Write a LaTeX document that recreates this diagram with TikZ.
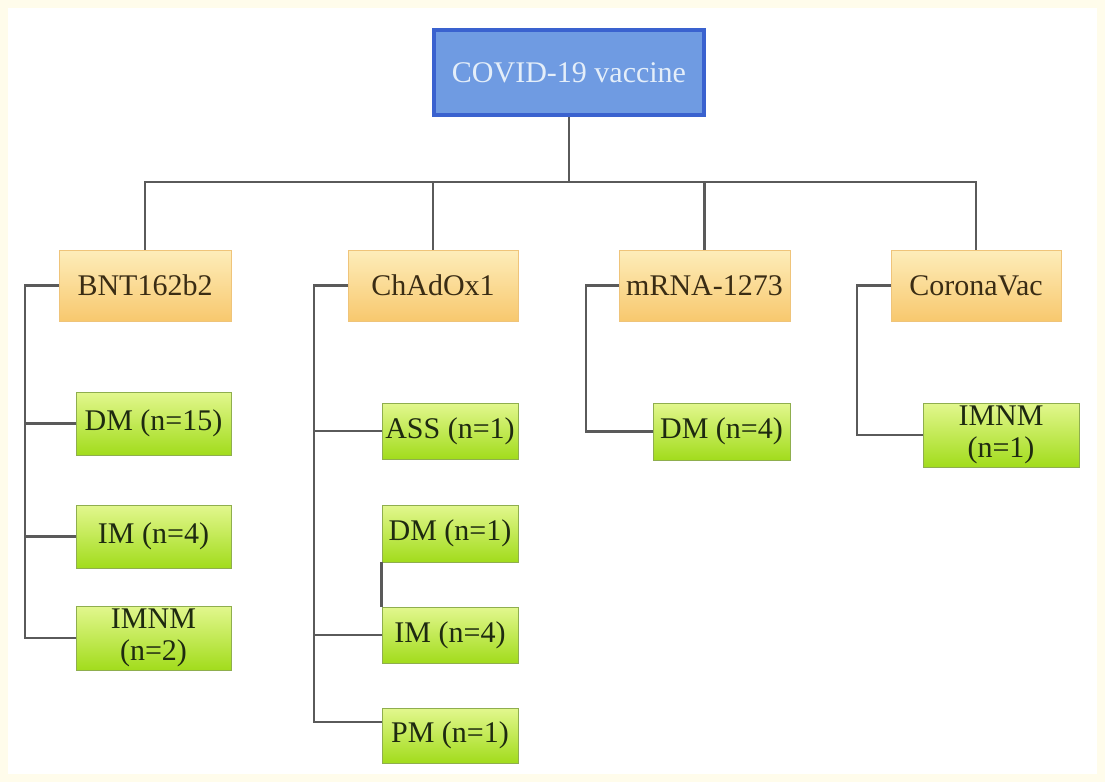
\documentclass[tikz,border=0pt]{standalone}
\usepackage{fontspec}
\setmainfont{Liberation Serif}
\definecolor{cream}{HTML}{FFFCEB}
\definecolor{topfill}{HTML}{6F9BE2}
\definecolor{topdraw}{HTML}{3A62CF}
\definecolor{toptext}{HTML}{E4EEF9}
\definecolor{ytop}{HTML}{FDEDBA}
\definecolor{ybot}{HTML}{F8C86E}
\definecolor{ydraw}{HTML}{EFC47A}
\definecolor{ytext}{HTML}{3A2C14}
\definecolor{gtop}{HTML}{E2F78E}
\definecolor{gbot}{HTML}{A2DC1C}
\definecolor{gdraw}{HTML}{8FAE4E}
\definecolor{gtext}{HTML}{1E2A10}
\definecolor{link}{HTML}{5A5A5A}
\tikzset{
  rootbox/.style={draw=topdraw, line width=4pt, fill=topfill, text=toptext,
    minimum width=270pt, minimum height=85pt, inner sep=0pt, font=\fontsize{30}{32}\selectfont},
  vbox/.style={draw=ydraw, line width=0.8pt, top color=ytop, bottom color=ybot, text=ytext,
    minimum height=71pt, inner sep=0pt, font=\fontsize{30}{32}\selectfont},
  gbox/.style={draw=gdraw, line width=0.8pt, top color=gtop, bottom color=gbot, text=gtext,
    inner sep=0pt, align=center, font=\fontsize{30}{32}\selectfont},
  link/.style={draw=link, line width=2.4pt},
}
\begin{document}
\begin{tikzpicture}[x=1pt,y=-1pt]
\fill[cream] (0,0) rectangle (1105,782);
\fill[white] (8,8) rectangle (1097,774);
\useasboundingbox (0,0) rectangle (1105,782);

\node[rootbox] (root) at (569,72.5) {COVID-19 vaccine};

\node[vbox, minimum width=172pt] (bnt) at (145,285.5) {BNT162b2};
\node[vbox, minimum width=170pt] (cha) at (433,285.5) {ChAdOx1};
\node[vbox, minimum width=171pt] (mrna) at (704.5,285.5) {mRNA-1273};
\node[vbox, minimum width=170pt] (cor) at (976,285.5) {CoronaVac};

\node[gbox, minimum width=155pt, minimum height=63pt] (b1) at (153.5,423.5) {DM (n=15)};
\node[gbox, minimum width=155pt, minimum height=63pt] (b2) at (153.5,536.5) {IM (n=4)};
\node[gbox, minimum width=155pt, minimum height=64pt] (b3) at (153.5,638) {IMNM\\(n=2)};

\node[gbox, minimum width=136pt, minimum height=56pt] (c1) at (450,431) {ASS (n=1)};
\node[gbox, minimum width=136pt, minimum height=57pt] (c2) at (450,533.5) {DM (n=1)};
\node[gbox, minimum width=136pt, minimum height=56pt] (c3) at (450,635) {IM (n=4)};
\node[gbox, minimum width=136pt, minimum height=55pt] (c4) at (450,735.5) {PM (n=1)};

\node[gbox, minimum width=137pt, minimum height=57pt] (m1) at (721.5,431.5) {DM (n=4)};

\node[gbox, minimum width=156pt, minimum height=64pt] (v1) at (1001,435) {IMNM\\(n=1)};

% top tree
\coordinate (bar) at (0,182);
\draw[link] (root.south) -- (root.south |- bar);
\draw[link] (bnt.north) |- (cor.north |- bar) -- (cor.north);
\draw[link] (cha.north) -- (cha.north |- bar);
\draw[link] (mrna.north) -- (mrna.north |- bar);

% BNT162b2 bracket
\coordinate (bs) at (25,0);
\draw[link] (bnt.west) -| (bs |- b3.west) -- (b3.west);
\draw[link] (b1.west) -- (bs |- b1.west);
\draw[link] (b2.west) -- (bs |- b2.west);

% ChAdOx1 bracket
\coordinate (cs) at (314,0);
\draw[link] (cha.west) -| (cs |- 0,722) -- ([yshift=13.5pt]c4.west);
\draw[link] (c1.west) -- (cs |- c1.west);
\draw[link] (c3.west) -- (cs |- c3.west);
\draw[link] (c2.south west) -- (c3.north west);

% mRNA-1273 bracket
\coordinate (ms) at (586,0);
\draw[link] (mrna.west) -| (ms |- m1.west) -- (m1.west);

% CoronaVac bracket
\coordinate (vs) at (857,0);
\draw[link] (cor.west) -| (vs |- v1.west) -- (v1.west);
\end{tikzpicture}
\end{document}
